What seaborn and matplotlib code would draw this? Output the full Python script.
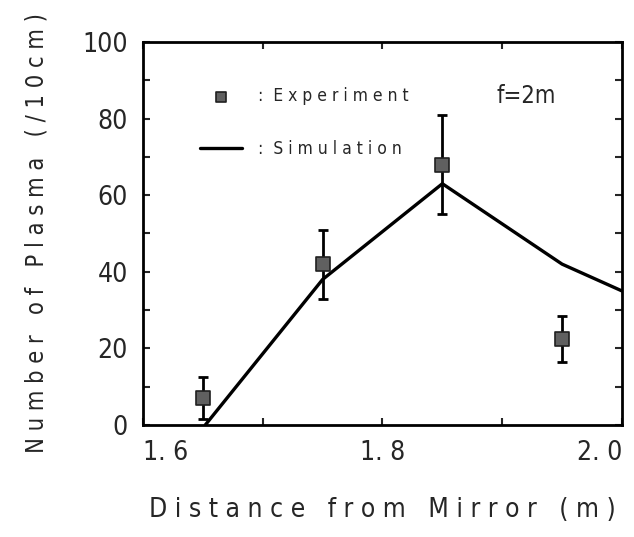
import matplotlib
matplotlib.use("Agg")
import matplotlib.pyplot as plt
from matplotlib.ticker import MultipleLocator, FixedLocator, FixedFormatter
import seaborn as sns
import pandas as pd

# experiment (square markers with error bars)
exp_x = [1.65, 1.75, 1.85, 1.95]
exp_y = [7, 42, 68, 22.5]
exp_err = [5.5, 9, 13, 6]

# simulation curve
sim_x = [1.652, 1.75, 1.85, 1.95, 2.0]
sim_y = [0, 38, 63, 42, 35]

xtick_vals = [1.6, 1.8, 2.0]
xtick_labels = ["1. 6", "1. 8", "2. 0"]
ytick_vals = [0, 20, 40, 60, 80, 100]
ytick_labels = ["0", "20", "40", "60", "80", "100"]

sns.set_style("ticks")
plt.rcParams['font.family'] = ['DejaVu Sans']
plt.rcParams['font.stretch'] = 'condensed'

fig = plt.figure(figsize=(6.34, 5.37), dpi=100)
ax = fig.add_axes([0.2256, 0.2086, 0.7554, 0.7132])

sim = pd.DataFrame({'x': sim_x, 'y': sim_y})
sns.lineplot(data=sim, x='x', y='y', color='black', linewidth=2.4, ax=ax,
             label=':  S i m u l a t i o n')

ax.errorbar(exp_x, exp_y, yerr=exp_err, fmt='none', ecolor='black',
            elinewidth=2, capsize=3.5, capthick=2)
ex = pd.DataFrame({'x': exp_x, 'y': exp_y})
sns.scatterplot(data=ex, x='x', y='y', marker='s', s=105, color='#606060',
                edgecolor='#202020', linewidth=1.2, ax=ax, zorder=5,
                label=':  E x p e r i m e n t')

ax.set_xlim(1.6, 2.0)
ax.set_ylim(0, 100)
ax.xaxis.set_major_locator(FixedLocator(xtick_vals))
ax.xaxis.set_major_formatter(FixedFormatter(xtick_labels))
ax.xaxis.set_minor_locator(MultipleLocator(0.1))
ax.yaxis.set_minor_locator(MultipleLocator(10))
ax.set_yticks(ytick_vals)
ax.set_yticklabels(ytick_labels)
ax.tick_params(which='both', direction='in', top=True, right=True,
               length=5, width=1.5, labelsize=19, pad=11)
xl = ax.get_xticklabels()
xl[-1].set_horizontalalignment('right')
xl[0].set_horizontalalignment('left')
for s in ax.spines.values():
    s.set_linewidth(2)
    s.set_color('black')

ax.set_xlabel("D i s t a n c e   f r o m   M i r r o r   ( m )", fontsize=19, labelpad=22)
ax.set_ylabel("N u m b e r   o f   P l a s m a   ( / 1 0 c m )", fontsize=17, labelpad=24)

h, l = ax.get_legend_handles_labels()
leg = ax.legend(h[::-1], l[::-1], loc='upper left', bbox_to_anchor=(0.087, 0.922),
                frameon=False, fontsize=12.5, handlelength=2.4, handletextpad=0.9,
                labelspacing=2.0, markerscale=0.65)
ax.text(0.739, 0.859, "f=2m", transform=ax.transAxes, fontsize=17, va='center')

fig.savefig("out.png", dpi=100)
